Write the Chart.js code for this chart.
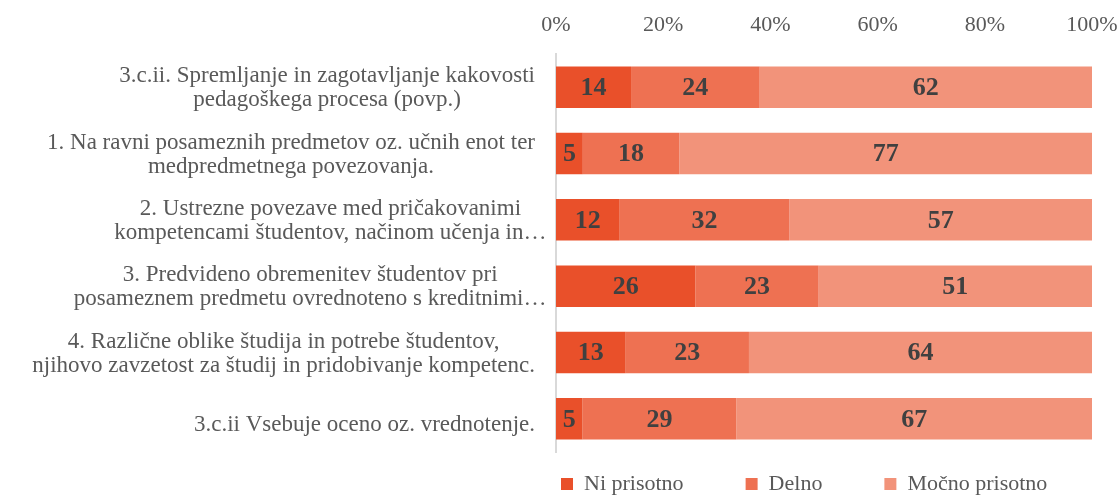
<!DOCTYPE html>
<html>
<head>
<meta charset="utf-8">
<script src="https://cdn.jsdelivr.net/npm/chart.js@4/dist/chart.umd.min.js"></script>
<style>
  html, body { margin: 0; padding: 0; background: #ffffff; }
  #wrap { width: 1120px; height: 496px; position: relative; }
</style>
</head>
<body>
<div id="wrap"><canvas id="c" width="1120" height="496"></canvas></div>
<script>
// ---- data ----
const categories = [
  ['3.c.ii. Spremljanje in zagotavljanje kakovosti', 'pedagoškega procesa (povp.)'],
  ['1. Na ravni posameznih predmetov oz. učnih enot ter', 'medpredmetnega povezovanja.'],
  ['2. Ustrezne povezave med pričakovanimi', 'kompetencami študentov, načinom učenja in…'],
  ['3. Predvideno obremenitev študentov pri', 'posameznem predmetu ovrednoteno s kreditnimi…'],
  ['4. Različne oblike študija in potrebe študentov,', 'njihovo zavzetost za študij in pridobivanje kompetenc.'],
  ['3.c.ii Vsebuje oceno oz. vrednotenje.']
];
const seriesNames = ['Ni prisotno', 'Delno', 'Močno prisotno'];
const niPrisotno    = [14, 5, 12, 26, 13, 5];
const delno         = [24, 18, 32, 23, 23, 29];
const mocnoPrisotno = [62, 77, 57, 51, 64, 67];
const xTickLabels = ['0%', '20%', '40%', '60%', '80%', '100%'];

// ---- styles ----
const COLORS = ['#E9502A', '#EE7152', '#F2937A'];
const SERIF = "'Liberation Serif', 'Times New Roman', serif";
const TEXT_COLOR = '#595959';
const LABEL_FONT = "23px " + SERIF;
const LEG_PAD = 62;

const rawSeries = [niPrisotno, delno, mocnoPrisotno];
const rowSums = categories.map((_, i) => rawSeries.reduce((s, arr) => s + arr[i], 0));
const datasets = rawSeries.map((arr, k) => ({
  label: seriesNames[k],
  data: arr.map((v, i) => v / rowSums[i] * 100),
  raw: arr,
  backgroundColor: COLORS[k],
  borderWidth: 0,
  barPercentage: 0.625,
  categoryPercentage: 1.0
}));

const yLabelPlugin = {
  id: 'yLabels',
  afterDraw(chart) {
    const ys = chart.scales.y;
    const ctx = chart.ctx;
    ctx.save();
    ctx.font = LABEL_FONT;
    ctx.fillStyle = TEXT_COLOR;
    ctx.textAlign = 'center';
    ctx.textBaseline = 'middle';
    const R = ys.right - 21;
    categories.forEach((lines, i) => {
      const y = ys.getPixelForValue(i) + (lines.length === 1 ? 6 : 1);
      const w = Math.max(...lines.map(l => ctx.measureText(l.replace(/…$/, '')).width));
      const cx = R - w / 2;
      lines.forEach((l, j) => ctx.fillText(l, cx, y + (j - (lines.length - 1) / 2) * 24));
    });
    ctx.restore();
  }
};

const valueLabelPlugin = {
  id: 'valueLabels',
  afterDatasetsDraw(chart) {
    const ctx = chart.ctx;
    ctx.save();
    ctx.font = "bold 26px " + SERIF;
    ctx.fillStyle = '#404040';
    ctx.textAlign = 'center';
    ctx.textBaseline = 'middle';
    chart.data.datasets.forEach((ds, k) => {
      const meta = chart.getDatasetMeta(k);
      meta.data.forEach((bar, i) => {
        ctx.fillText(String(ds.raw[i]), (bar.x + bar.base) / 2, bar.y + 1);
      });
    });
    ctx.restore();
  }
};

const legendFix = {
  id: 'legendFix',
  beforeLayout(chart) {
    const lg = chart.legend;
    if (lg && !lg.__fixed) {
      const origFit = lg.fit;
      lg.fit = function () { origFit.call(this); this.height = 44; };
      lg.__fixed = true;
    }
  },
  afterLayout(chart) {
    const lg = chart.legend;
    if (!lg) return;
    const ca = chart.chartArea;
    lg.left = ca.left + 5 - LEG_PAD;
    lg.right = chart.width;
    lg.top = ca.bottom + 32 - LEG_PAD - 11;
    lg.bottom = chart.height;
  }
};

new Chart(document.getElementById('c'), {
  type: 'bar',
  data: { labels: categories, datasets },
  plugins: [legendFix, yLabelPlugin, valueLabelPlugin],
  options: {
    indexAxis: 'y',
    responsive: false,
    animation: false,
    layout: { padding: { top: 0, right: 28, bottom: 0, left: 0 } },
    scales: {
      x: {
        position: 'top',
        stacked: true,
        min: 0,
        max: 100,
        ticks: {
          stepSize: 20,
          padding: 16,
          color: TEXT_COLOR,
          font: { family: SERIF, size: 22 },
          callback: (v) => xTickLabels[Math.round(v / 20)]
        },
        grid: { display: false, drawTicks: false },
        border: { display: false },
        afterFit(scale) {
          scale.height = 54;
          scale.paddingLeft = 0;
          scale.paddingRight = 0;
        }
      },
      y: {
        stacked: true,
        ticks: { display: false },
        grid: { display: false, drawTicks: false },
        border: { display: true, color: '#D9D9D9', width: 2 },
        afterFit(scale) { scale.width = 556; }
      }
    },
    plugins: {
      tooltip: { enabled: false },
      legend: {
        position: 'bottom',
        align: 'start',
        labels: {
          boxWidth: 12,
          boxHeight: 12,
          padding: LEG_PAD,
          color: TEXT_COLOR,
          font: { family: SERIF, size: 22 }
        }
      }
    }
  }
});
</script>
</body>
</html>
